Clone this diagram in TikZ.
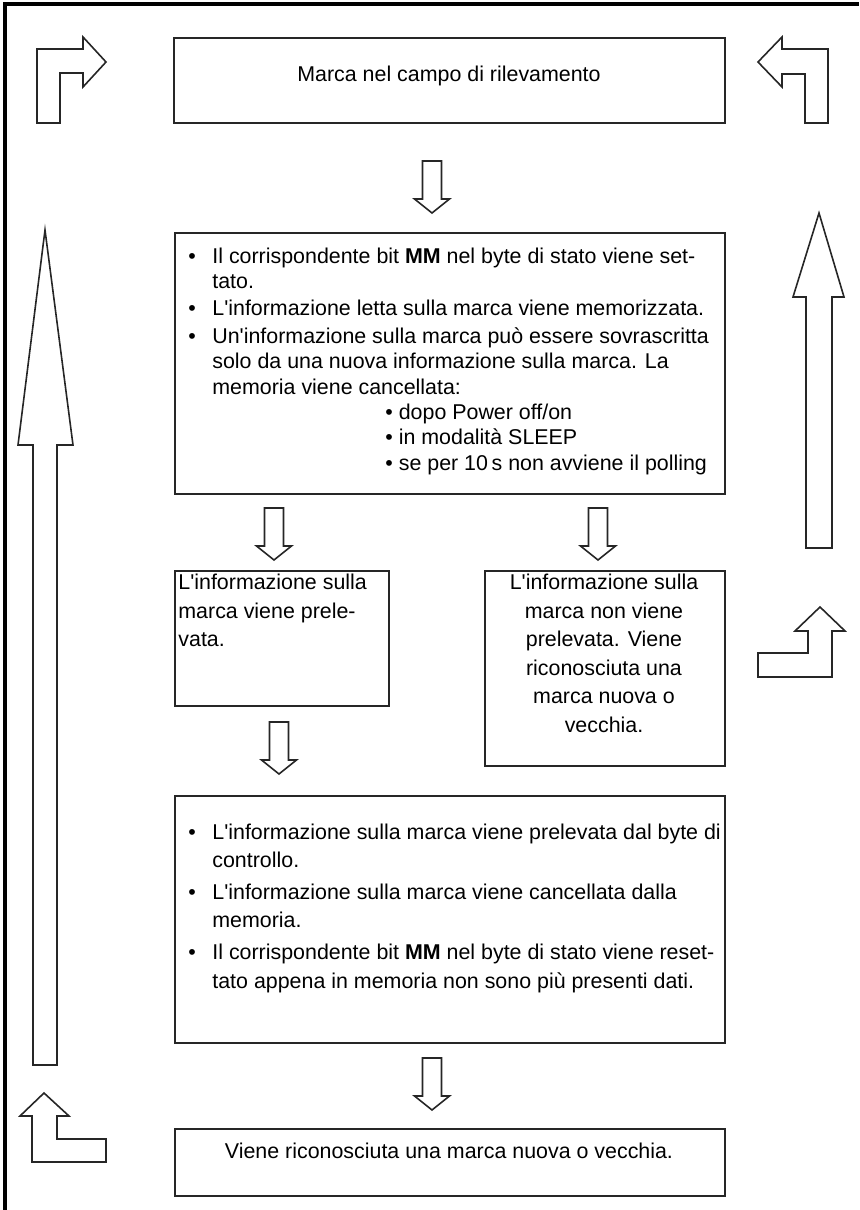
\documentclass[tikz,border=0pt]{standalone}
\usepackage{fontspec}
\setmainfont{Liberation Sans}
\newcommand{\q}{\textquotesingle}
\tikzset{
  box/.style={draw=black!85, line width=1pt, rectangle, inner sep=0pt, anchor=north west},
  blockarrow/.style={draw=black!85, line width=0.8pt, line join=miter},
  txt/.style={inner sep=0pt, font=\fontsize{10.7}{14.3}\selectfont},
  tighttxt/.style={inner sep=0pt, font=\fontsize{10.7}{12.7}\selectfont},
  frame/.style={line width=1.6pt, black},
  downarr/.pic={\draw[blockarrow] (-9.5,0) -- (9.5,0) -- (9.5,38) -- (17.5,38) -- (0,52) -- (-17.5,38) -- (-9.5,38) -- cycle;}
}
\begin{document}
\begin{tikzpicture}[x=0.5pt,y=-0.5pt]
\useasboundingbox (0,0) rectangle (859,1210);
% frame (top and left edges)
\draw[frame] (5,1210) -- (5,4) -- (859,4);

% boxes
\node[box, minimum width=275.5pt, minimum height=42.5pt] (top) at (173,37) {};
\node[box, minimum width=275pt, minimum height=130.5pt] (b1) at (174,232) {};
\node[box, minimum width=107pt, minimum height=67.5pt] (b2l) at (174,570) {};
\node[box, minimum width=120pt, minimum height=97.5pt] (b2r) at (484,570) {};
\node[box, minimum width=275pt, minimum height=123.5pt] (b3) at (174,795) {};
\node[box, minimum width=275pt, minimum height=33.5pt] (b4) at (174,1128) {};

% texts
\node[txt, anchor=base] (t0) at (449,81) {Marca nel campo di rilevamento};

\node[tighttxt, anchor=base west] (t1) at (188,263) {\begin{tabular}[t]{@{}l@{\hspace{8.25pt}}l@{}}
\textbullet & Il corrispondente bit \textbf{MM} nel byte di stato viene set-\\
& tato.\\[1pt]
\textbullet & L\q informazione letta sulla marca viene memorizzata.\\[1pt]
\textbullet & Un\q informazione sulla marca può essere sovrascritta\\
& solo da una nuova informazione sulla marca. La\\
& memoria viene cancellata:\\
& \hspace*{86.5pt}\textbullet\ dopo Power off/on\\
& \hspace*{86.5pt}\textbullet\ in modalità SLEEP\\
& \hspace*{86.5pt}\textbullet\ se per 10\,s non avviene il polling
\end{tabular}};

\node[txt, anchor=base west] (t2l) at (178,589.5) {\begin{tabular}[t]{@{}l@{}}
L\q informazione sulla\\
marca viene prele-\\
vata.
\end{tabular}};

\node[txt, anchor=base] (t2r) at (604,589.5) {\begin{tabular}[t]{@{}c@{}}
L\q informazione sulla\\
marca non viene\\
prelevata. Viene\\
riconosciuta una\\
marca nuova o\\
vecchia.
\end{tabular}};

\node[txt, anchor=base west] (t3) at (188,839) {\begin{tabular}[t]{@{}l@{\hspace{8.25pt}}l@{}}
\textbullet & L\q informazione sulla marca viene prelevata dal byte di\\
& controllo.\\[1.5pt]
\textbullet & L\q informazione sulla marca viene cancellata dalla\\
& memoria.\\[1.5pt]
\textbullet & Il corrispondente bit \textbf{MM} nel byte di stato viene reset-\\
& tato appena in memoria non sono più presenti dati.
\end{tabular}};

\node[txt, anchor=base] (t4) at (449,1158) {Viene riconosciuta una marca nuova o vecchia.};

% small down arrows between boxes
\pic at (432,161) {downarr};
\pic at (274,508) {downarr};
\pic at (598,508) {downarr};
\pic at (279,722) {downarr};
\pic at (432,1058) {downarr};

% top-left elbow arrow
\draw[blockarrow] (37,123) -- (37,49) -- (83,49) -- (83,37) -- (106,62) -- (83,87) -- (83,73) -- (60,73) -- (60,123) -- cycle;
% top-right elbow arrow
\draw[blockarrow] (758,62) -- (782,37) -- (782,49) -- (828,49) -- (828,123) -- (805,123) -- (805,74) -- (782,74) -- (782,87) -- cycle;
% left long arrow
\draw[blockarrow] (45,230) -- (73,445) -- (57,445) -- (57,1065) -- (33,1065) -- (33,445) -- (18,445) -- cycle;
% right long arrow
\draw[blockarrow] (819,213) -- (844,297) -- (832,297) -- (832,548) -- (806,548) -- (806,297) -- (793,297) -- cycle;
% right elbow arrow
\draw[blockarrow] (820,607) -- (845,631) -- (832,631) -- (832,677) -- (758,677) -- (758,653) -- (808,653) -- (808,631) -- (795,631) -- cycle;
% bottom-left elbow arrow
\draw[blockarrow] (44,1093) -- (69,1116) -- (57,1116) -- (57,1139) -- (106,1139) -- (106,1162) -- (32,1162) -- (32,1116) -- (20,1116) -- cycle;
\end{tikzpicture}
\end{document}
